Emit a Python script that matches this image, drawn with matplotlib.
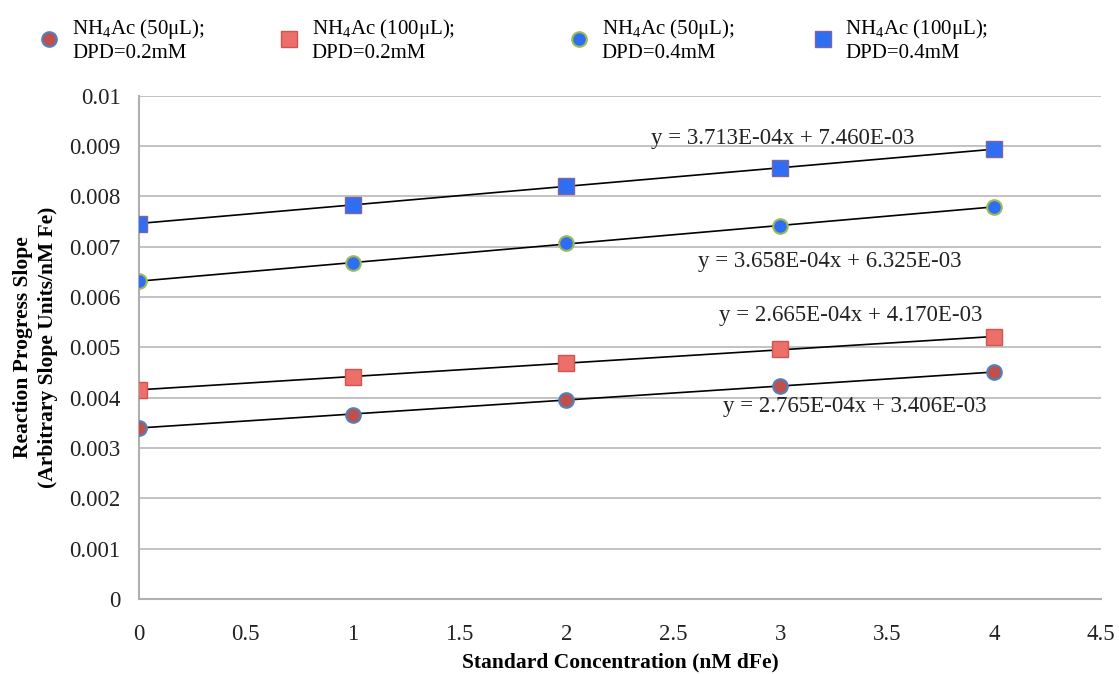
import matplotlib
matplotlib.use("Agg")
import matplotlib.pyplot as plt
import numpy as np

plt.rcParams['font.family'] = ['Liberation Serif', 'DejaVu Serif']
plt.rcParams['mathtext.fontset'] = 'custom'
plt.rcParams['mathtext.rm'] = 'Liberation Serif'

x_conc = [0, 1, 2, 3, 4]
red_circle = [0.00341, 0.00366, 0.00396, 0.00424, 0.00451]
red_square = [0.00416, 0.00441, 0.00470, 0.00496, 0.00521]
blue_circle = [0.00632, 0.00667, 0.00707, 0.00742, 0.00779]
blue_square = [0.00746, 0.00783, 0.00821, 0.00856, 0.00894]

series_labels = [r'NH$_\mathregular{4}$Ac (50μL);' + '\nDPD=0.2mM',
                 r'NH$_\mathregular{4}$Ac (100μL);' + '\nDPD=0.2mM',
                 r'NH$_\mathregular{4}$Ac (50μL);' + '\nDPD=0.4mM',
                 r'NH$_\mathregular{4}$Ac (100μL);' + '\nDPD=0.4mM']

equations = ['y = 2.765E-04x + 3.406E-03',
             'y = 2.665E-04x + 4.170E-03',
             'y = 3.658E-04x + 6.325E-03',
             'y = 3.713E-04x + 7.460E-03']
eq_pos = [(3.35, 0.00383), (3.33, 0.00563), (3.23, 0.00670), (3.01, 0.00915)]

y_ticks = [0, 0.001, 0.002, 0.003, 0.004, 0.005, 0.006, 0.007, 0.008, 0.009, 0.01]
y_ticklabels = ['0', '0.001', '0.002', '0.003', '0.004', '0.005', '0.006', '0.007', '0.008', '0.009', '0.01']
x_ticks = [0, 0.5, 1, 1.5, 2, 2.5, 3, 3.5, 4, 4.5]
x_ticklabels = ['0', '0.5', '1', '1.5', '2', '2.5', '3', '3.5', '4', '4.5']

# legend entry anchors (figure fraction)
legend_anchor_x = [0.018, 0.232, 0.491, 0.709]

fig = plt.figure(figsize=(11.19, 6.74), dpi=100)
ax = fig.add_axes([0.124, 0.111, 0.860, 0.747])

styles = [
    dict(marker='o', markerfacecolor='#C0504D', markeredgecolor='#4F81BD', markersize=10.5, markeredgewidth=1.5),
    dict(marker='s', markerfacecolor='#EC6F6A', markeredgecolor='#D05550', markersize=11, markeredgewidth=1.0),
    dict(marker='o', markerfacecolor='#2F6EF2', markeredgecolor='#9BBB59', markersize=10.5, markeredgewidth=1.5),
    dict(marker='s', markerfacecolor='#2F6EF2', markeredgecolor='#8064A2', markersize=11, markeredgewidth=1.0),
]
all_series = [red_circle, red_square, blue_circle, blue_square]

xs = np.array(x_conc, dtype=float)
handles = []
for ys, st, lab in zip(all_series, styles, series_labels):
    coef = np.polyfit(xs, ys, 1)
    ax.plot(xs, np.polyval(coef, xs), color='black', lw=1.2, zorder=3)
    h, = ax.plot(xs, ys, linestyle='none', zorder=4, label=lab, **st)
    handles.append(h)

for txt, (px, py) in zip(equations, eq_pos):
    ax.text(px, py, txt, ha='center', va='center', fontsize=16.5, color='#222222', zorder=5)

ax.set_xlim(0, 4.5)
ax.set_ylim(0, 0.01)
ax.set_yticks(y_ticks)
ax.set_yticklabels(y_ticklabels)
ax.set_xticks(x_ticks)
ax.set_xticklabels(x_ticklabels)
ax.tick_params(axis='both', length=0, labelsize=16.5, colors='#222222')
ax.tick_params(axis='y', pad=13)
ax.tick_params(axis='x', pad=18)
ax.grid(axis='y', color='#BDBDBD', lw=1.3)
ax.set_axisbelow(True)
for s in ['top', 'right']:
    ax.spines[s].set_visible(False)
for s in ['left', 'bottom']:
    ax.spines[s].set_color('#B0B0B0')
    ax.spines[s].set_linewidth(1.5)

ax.set_xlabel('Standard Concentration (nM dFe)', fontsize=15.5, fontweight='bold', labelpad=5)
ax.set_ylabel('Reaction Progress Slope\n(Arbitrary Slope Units/nM Fe)', fontsize=15.5,
              fontweight='bold', labelpad=8, linespacing=1.35)

for h, axx in zip(handles, legend_anchor_x):
    fig.legend(handles=[h], loc='upper left', bbox_to_anchor=(axx, 1.003),
               frameon=False, fontsize=15, handletextpad=0.6, handlelength=1.0)

fig.savefig('out.png', dpi=100)
